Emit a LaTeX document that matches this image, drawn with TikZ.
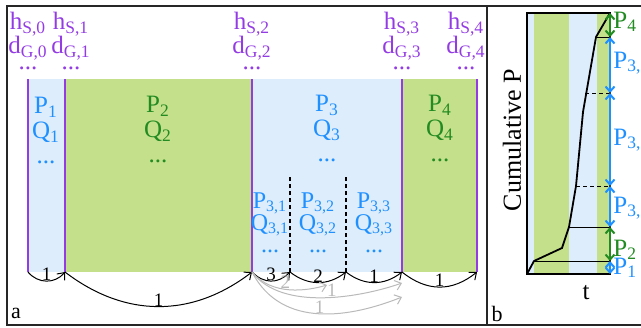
\documentclass[tikz,border=0pt]{standalone}
\usepackage{fontspec}
\setmainfont{Liberation Serif}
\usetikzlibrary{arrows.meta}
\definecolor{cellB}{RGB}{222,237,252}
\definecolor{cellG}{RGB}{197,224,138}
\definecolor{txtB}{RGB}{30,144,255}
\definecolor{txtG}{RGB}{34,139,34}
\definecolor{bndC}{RGB}{148,60,228}
\definecolor{skipC}{RGB}{185,185,185}
\begin{document}
\begin{tikzpicture}[x=0.5pt, y=-0.5pt,
  lab/.style={align=center, inner sep=0pt, font=\fontsize{12.5}{12.5}\selectfont},
  blab/.style={lab, text=txtB},
  glab/.style={lab, text=txtG},
  sublab/.style={blab, font=\fontsize{12}{11}\selectfont},
  hlab/.style={lab, text=bndC, font=\fontsize{12.5}{12}\selectfont},
  bnd/.style={draw=bndC, line width=0.75pt},
  cut/.style={draw=black, line width=0.75pt, dash pattern=on 2pt off 1.5pt},
  hop/.style={-{Straight Barb[length=3pt,width=5pt]}, line width=0.5pt},
  skip/.style={hop, draw=skipC},
  alab/.style={inner sep=0pt, anchor=south, font=\fontsize{9.5}{10}\selectfont},
  slab/.style={alab, text=skipC},
  frm/.style={draw=black!85, line width=1pt},
  cum/.style={line width=0.9pt},
  lvl/.style={line width=0.5pt},
  seg/.style={{Straight Barb[length=2.5pt,width=4.5pt]}-{Straight Barb[length=2.5pt,width=4.5pt]}, line width=1pt},
]
\useasboundingbox (0,0) rectangle (641,327);

% ---------------- panel a: segments ----------------
\fill[cellB] (28,79) rectangle (65,272);
\fill[cellG] (65,79) rectangle (252,272);
\fill[cellB] (252,79) rectangle (402,272);
\fill[cellG] (402,79) rectangle (477,272);

\coordinate (b0) at (28,272);
\coordinate (b1) at (65,272);
\coordinate (b2) at (252,272);
\coordinate (s1) at (290,272);
\coordinate (s2) at (346,272);
\coordinate (b3) at (402,272);
\coordinate (b4) at (477,272);

\foreach \b in {b0,b1,b2,b3,b4}
  \draw[bnd] (\b) -- ++(0,-193);
\draw[cut] (s1) -- ++(0,-97);
\draw[cut] (s2) -- ++(0,-97);

% boundary labels
\node[hlab, anchor=north] (h0) at (28,12)  {h\textsubscript{S,0}\\d\textsubscript{G,0}\\[-4pt]...};
\node[hlab, anchor=north] (h1) at (71,12)  {h\textsubscript{S,1}\\d\textsubscript{G,1}\\[-4pt]...};
\node[hlab, anchor=north] (h2) at (252,12) {h\textsubscript{S,2}\\d\textsubscript{G,2}\\[-4pt]...};
\node[hlab, anchor=north] (h3) at (402,12) {h\textsubscript{S,3}\\d\textsubscript{G,3}\\[-4pt]...};
\node[hlab, anchor=north] (h4) at (466,12) {h\textsubscript{S,4}\\d\textsubscript{G,4}\\[-4pt]...};

% segment labels
\node[blab, anchor=north] (p1) at (46,97)  {P\textsubscript{1}\\Q\textsubscript{1}\\...};
\node[glab, anchor=north] (p2) at (158,96) {P\textsubscript{2}\\Q\textsubscript{2}\\...};
\node[blab, anchor=north] (p3) at (327,95) {P\textsubscript{3}\\Q\textsubscript{3}\\...};
\node[glab, anchor=north] (p4) at (440,95) {P\textsubscript{4}\\Q\textsubscript{4}\\...};
\node[sublab, anchor=north] (p31) at (270,192) {P\textsubscript{3,1}\\Q\textsubscript{3,1}\\...};
\node[sublab, anchor=north] (p32) at (318,192) {P\textsubscript{3,2}\\Q\textsubscript{3,2}\\...};
\node[sublab, anchor=north] (p33) at (374,192) {P\textsubscript{3,3}\\Q\textsubscript{3,3}\\...};

% transitions
\draw[hop] (b0) .. controls +(10,12) and +(-10,12) .. (b1) node[alab, pos=0.5]{1};
\draw[hop] (b1) .. controls +(60,46) and +(-60,46) .. (b2) node[alab, pos=0.5]{1};
\draw[hop] (b2) .. controls +(12,12) and +(-12,12) .. (s1) node[alab, pos=0.5]{3};
\draw[hop] (s1) .. controls +(18,14) and +(-18,14) .. (s2) node[alab, pos=0.5]{2};
\draw[hop] (s2) .. controls +(18,14) and +(-18,14) .. (b3) node[alab, pos=0.5]{1};
\draw[hop] (b3) .. controls +(25,20) and +(-25,20) .. (b4) node[alab, pos=0.5]{1};

\coordinate (g1) at (327,285);
\coordinate (g2) at (402,283);
\coordinate (g3) at (402,297);
\draw[skip] (b2) .. controls +(20,24) and +(-20,6) .. (g1) node[slab, pos=0.45]{2};
\draw[skip] (b2) .. controls +(30,40) and +(-40,14) .. (g2) node[slab, pos=0.55]{1};
\draw[skip] (b2) .. controls +(30,58) and +(-50,20) .. (g3) node[slab, pos=0.5]{1};

% ---------------- panel b: cumulative ----------------
\fill[cellB] (527,13) rectangle (534,274);
\fill[cellG] (534,13) rectangle (569,274);
\fill[cellB] (569,13) rectangle (597,274);
\fill[cellG] (597,13) rectangle (610,274);

\coordinate (c0) at (610,274);
\coordinate (c1) at (610,261);
\coordinate (c2) at (610,227);
\coordinate (c3) at (610,186);
\coordinate (c4) at (610,93);
\coordinate (c5) at (610,37);
\coordinate (c6) at (610,13);

\draw[lvl] (534,261) -- (c1);
\draw[lvl] (569,227) -- (c2);
\draw[lvl, dash pattern=on 2pt off 1.5pt] (576,186) -- (c3);
\draw[lvl, dash pattern=on 2pt off 1.5pt] (585,93) -- (c4);
\draw[lvl] (596,37) -- (c5);
\draw[cum] (527,274) -- (534,261) -- (562,248) -- (569,227) -- (576,186)
  -- (583,112) -- (596,37) -- (c6);
\draw[cum] (527,13) rectangle (610,274);

\draw[seg, draw=txtB] (c0) -- (c1);
\draw[seg, draw=txtG] (c1) -- (c2);
\draw[seg, draw=txtB] (c2) -- (c3);
\draw[seg, draw=txtB] (c3) -- (c4);
\draw[seg, draw=txtB] (c4) -- (c5);
\draw[seg, draw=txtG] (c5) -- (c6);

\node[blab, anchor=west] (q1) at (613,268) {P\textsubscript{1}};
\node[glab, anchor=west] (q2) at (613,250) {P\textsubscript{2}};
\node[blab, anchor=west] (q31) at (613,208) {P\textsubscript{3,1}};
\node[blab, anchor=west] (q32) at (613,140) {P\textsubscript{3,2}};
\node[blab, anchor=west] (q33) at (613,63) {P\textsubscript{3,3}};
\node[glab, anchor=west] (q4) at (613,22) {P\textsubscript{4}};

\node[lab, rotate=90, font=\fontsize{13}{13}\selectfont] (ylab) at (512,140) {Cumulative P};
\node[lab] (xlab) at (586,293) {t};

% ---------------- frame ----------------
\draw[frm] (641,6) -- (7,6) -- (7,325) -- (641,325);
\draw[frm] (487,6) -- (487,325);
\node[lab, font=\fontsize{11}{11}\selectfont] (pa) at (16,313) {a};
\node[lab, font=\fontsize{11}{11}\selectfont] (pb) at (497,314) {b};
\end{tikzpicture}
\end{document}
